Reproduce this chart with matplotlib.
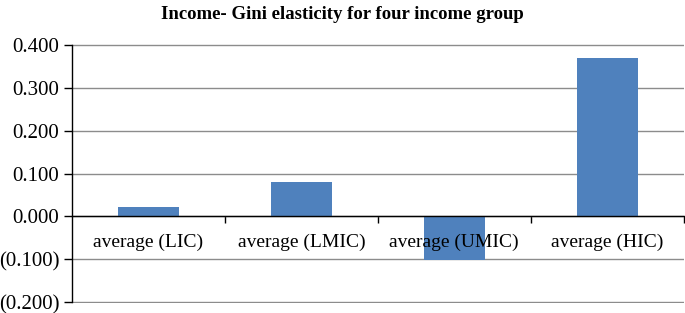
import matplotlib
matplotlib.use("Agg")
import matplotlib.pyplot as plt
from matplotlib.ticker import FuncFormatter, FixedLocator

categories = ["average (LIC)", "average (LMIC)", "average (UMIC)", "average (HIC)"]
values = [0.021, 0.081, -0.101, 0.371]
yticks = [-0.2, -0.1, 0.0, 0.1, 0.2, 0.3, 0.4]

plt.rcParams['font.family'] = ['Liberation Serif', 'DejaVu Serif']

fig = plt.figure(figsize=(6.85, 3.13), dpi=100)
ax = fig.add_axes([0.105, 0.033, 0.893, 0.825])

x = list(range(len(categories)))
ax.bar(x, values, width=0.4, color="#4F81BD", zorder=3)

ax.set_xlim(-0.5, len(categories) - 0.5)
ax.set_ylim(-0.2015, 0.4015)
ax.spines['left'].set_bounds(-0.2, 0.4)
ax.set_yticks(yticks)
ax.yaxis.set_major_formatter(FuncFormatter(lambda v, p: f"({abs(v):.3f})" if v < -1e-9 else f"{abs(v):.3f}"))
ax.tick_params(axis='y', labelsize=15, length=6, width=1, direction='out', pad=3)

ax.grid(axis='y', color='#8c8c8c', linewidth=1.0, zorder=0)
ax.set_axisbelow(True)

for s in ['top', 'right']:
    ax.spines[s].set_visible(False)
ax.spines['left'].set_linewidth(1.0)
ax.spines['bottom'].set_position(('data', 0))
ax.spines['bottom'].set_linewidth(1.0)
ax.spines['bottom'].set_zorder(4)

ax.set_xticks([])
ax.xaxis.set_minor_locator(FixedLocator([0.5, 1.5, 2.5, 3.5]))
ax.tick_params(axis='x', which='minor', length=5, width=1, direction='out')

for xi, name in zip(x, categories):
    ax.annotate(name, xy=(xi, 0), xycoords='data', xytext=(0, -26), textcoords='offset pixels',
                ha='center', va='center', fontsize=14, zorder=6)

fig.suptitle("Income- Gini elasticity for four income group", x=0.5, y=0.982,
             fontsize=13.5, fontweight='bold', va='top')

fig.savefig("out.png", dpi=100)
